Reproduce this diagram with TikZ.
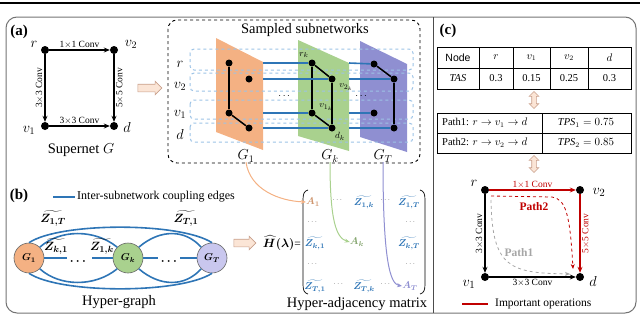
\documentclass[tikz,border=0pt]{standalone}
\usepackage{amsmath,bm}
\usepackage{fontspec}
\setmainfont{Liberation Serif}
\newfontfamily\sansf{Liberation Sans}
\usetikzlibrary{arrows.meta,shapes.arrows,shapes.geometric}
\definecolor{cblue}{HTML}{2E75B6}
\definecolor{lblue}{HTML}{9DC3E6}
\definecolor{porange}{HTML}{F4B183}
\definecolor{pgreen}{HTML}{A9D18E}
\definecolor{ppurple}{HTML}{8F8FD1}
\definecolor{cpurple}{HTML}{C9C7EE}
\definecolor{cred}{HTML}{C00000}
\definecolor{cgray}{HTML}{A6A6A6}
\definecolor{barrow}{HTML}{FBE5D6}
\definecolor{barrowd}{HTML}{C9A08C}
\newcommand{\ztil}[1]{$\bm{\widetilde{Z_{#1}}}$}
\tikzset{
  dot/.style={circle,fill=black,inner sep=0pt,minimum size=8pt},
  sdot/.style={circle,fill=black,inner sep=0pt,minimum size=7pt},
  arr/.style={line width=1.3pt,-{Stealth[length=6pt,width=5pt]}},
  lbl/.style={font=\fontsize{9.5}{10}\selectfont, inner sep=1.5pt},
  var/.style={font=\fontsize{14}{15}\selectfont, inner sep=0pt},
  cpl/.style={cblue, line width=1.6pt},
  gedge/.style={line width=1.5pt},
  zt/.style={text=cblue, font=\fontsize{10}{11}\selectfont, inner sep=0pt},
  mtx/.style={font=\fontsize{10}{11}\selectfont, inner sep=0pt},
  mdots/.style={font=\fontsize{6}{6}\selectfont, inner sep=0pt},
  big/.style={font=\fontsize{14.5}{16}\selectfont, inner sep=0pt},
  panel/.style={font=\fontsize{15}{16}\selectfont\bfseries, inner sep=0pt},
  rowbox/.style={lblue, dashed, line width=1pt, rounded corners=4pt},
  barr/.style={single arrow, draw=barrowd, fill=barrow, line width=0.6pt, inner sep=3.5pt, single arrow head extend=3pt, minimum height=24pt},
  darr/.style={double arrow, draw=barrowd, fill=barrow, line width=0.6pt, inner sep=2pt, double arrow head extend=2.5pt, minimum height=17pt, rotate=90},
  hnode/.style={circle, draw=black!60, line width=0.6pt, minimum size=30pt, inner sep=0pt, font=\fontsize{10}{11}\selectfont},
  tcell/.style={font=\fontsize{10.5}{11}\selectfont, inner sep=0pt},
  zb/.style={font=\fontsize{12.5}{13}\selectfont, inner sep=0pt},
}
\begin{document}
\begin{tikzpicture}[x=1pt,y=-1pt]
\useasboundingbox (0,0) rectangle (640,316);
\draw[line width=1.2pt] (0,3) -- (640,3);
\draw[black!55, line width=1pt, rounded corners=11pt] (6,17) rectangle (636,313);
\draw[black!70, line width=0.8pt] (433,17) -- (433,313);

% ---------- panel (a)
\node[panel] (pa) at (19,32) {(a)};
\node[dot] (ar) at (45,50) {};
\node[dot] (av2) at (114,50) {};
\node[dot] (av1) at (45,126) {};
\node[dot] (ad) at (114,126) {};
\node[var] (lr) at (34,44) {$r$};
\node[var] (lv2) at (131,44) {$v_2$};
\node[var] (lv1) at (29,130) {$v_1$};
\node[var] (ld) at (127,127) {$d$};
\draw[arr] (ar) -- node[above,lbl]{1$\times$1 Conv} (av2);
\draw[arr] (ar) -- node[lbl,rotate=90,anchor=south]{3$\times$3 Conv} (av1);
\draw[arr] (av2) -- node[lbl,rotate=90,anchor=north]{5$\times$5 Conv} (ad);
\draw[arr] (av1) -- node[above,lbl]{3$\times$3 Conv} (ad);
\node[big] (sup) at (81,150) {Supernet $G$};
\node[barr] (ba1) at (148,88) {};

% sampled subnetworks
\draw[dashed, line width=0.9pt, rounded corners=9pt] (168,20) rectangle (420,163);
\node[big] (samp) at (305,30) {Sampled subnetworks};
\fill[porange] (216,38) -- (263,62) -- (263,150) -- (216,132) -- cycle;
\fill[pgreen] (298,40) -- (349,63) -- (349,151) -- (298,136) -- cycle;
\fill[ppurple] (360,41) -- (407,64) -- (407,152) -- (360,137) -- cycle;
\draw[rowbox] (190,49) rectangle (413,70);
\draw[rowbox] (190,73) rectangle (413,91);
\draw[rowbox] (190,100) rectangle (413,119);
\draw[rowbox] (190,123) rectangle (413,142);
\node[var] (rr) at (180,64) {$r$};
\node[var] (rv2) at (180,86) {$v_2$};
\node[var] (rv1) at (180,114) {$v_1$};
\node[var] (rd) at (180,134) {$d$};
% G1
\node[sdot] (g1r) at (229,63) {};
\node[sdot] (g1v2) at (249,79) {};
\node[sdot] (g1v1) at (229,113) {};
\node[sdot] (g1d) at (249,128) {};
\draw[gedge] (g1r) -- (g1v1);
\draw[gedge] (g1v1) -- (g1d);
% Gk
\node[sdot] (gkr) at (312,63) {};
\node[sdot] (gkv2) at (332,79) {};
\node[sdot] (gkv1) at (312,113) {};
\node[sdot] (gkd) at (332,128) {};
\draw[gedge] (gkr) -- (gkv2);
\draw[gedge] (gkr) -- (gkv1);
\draw[gedge] (gkv2) -- (gkd);
\draw[gedge] (gkv1) -- (gkd);
% GT
\node[sdot] (gtr) at (374,64) {};
\node[sdot] (gtv2) at (394,79) {};
\node[sdot] (gtv1) at (374,113) {};
\node[sdot] (gtd) at (394,128) {};
\draw[gedge] (gtr) -- (gtv2);
\draw[gedge] (gtv2) -- (gtd);
% coupling lines
\coordinate (e1r) at (263,63);
\coordinate (e1v2) at (263,79);
\coordinate (e1v1) at (263,113);
\coordinate (e1d) at (263,128);
\coordinate (ekr) at (349,63);
\coordinate (ekv2) at (349,79);
\coordinate (ekv1) at (349,113);
\coordinate (ekd) at (349,128);
\draw[cpl] (e1r) -- (gkr);
\draw[cpl] (e1v2) -- (gkv2);
\draw[cpl] (e1v1) -- (gkv1);
\draw[cpl] (e1d) -- (gkd);
\draw[cpl] (ekr) -- (gtr);
\draw[cpl] (ekv2) -- (gtv2);
\draw[cpl] (ekv1) -- (gtv1);
\draw[cpl] (ekd) -- (gtd);
\node[mtx] (dd1) at (285,96) {$\cdots$};
\node[mtx] (dd2) at (362,96) {$\cdots$};
\node[lbl] (lrk) at (304,55) {$r_k$};
\node[lbl] (lv2k) at (346,87) {$v_{2_k}$};
\node[lbl] (lv1k) at (326,107) {$v_{1_k}$};
\node[lbl] (ldk) at (340,136) {$d_k$};
\node[big] (gl1) at (246,156) {$G_1$};
\node[big] (glk) at (330,156) {$G_k$};
\node[big] (glt) at (383,156) {$G_T$};

% ---------- panel (b)
\node[panel] (pb) at (19,196) {(b)};
\coordinate (lg1) at (53,197);
\coordinate (lg2) at (75,197);
\draw[cpl, line width=1.2pt] (lg1) -- (lg2);
\node[font=\fontsize{12}{13}\selectfont, anchor=west, inner sep=0pt] (lgt) at (77,197) {Inter-subnetwork coupling edges};
\node[hnode, fill=porange] (h1) at (29,258) {$\bm{G_1}$};
\node[hnode, fill=pgreen] (hk) at (128,258) {$\bm{G_k}$};
\node[hnode, fill=cpurple] (ht) at (212,258) {$\bm{G_T}$};
\coordinate (c1) at (67,258);
\coordinate (c2) at (92,258);
\coordinate (c3) at (158,258);
\coordinate (c4) at (180,258);
\draw[cpl] (h1) -- (c1);
\draw[cpl] (c2) -- (hk);
\draw[cpl] (hk) -- (c3);
\draw[cpl] (c4) -- (ht);
\node[font=\fontsize{12}{12}\selectfont, inner sep=0pt] (hd1) at (79,262) {$\bm{\cdots}$};
\node[font=\fontsize{12}{12}\selectfont, inner sep=0pt] (hd2) at (170,262) {$\bm{\cdots}$};
\draw[cpl] (h1.north) .. controls (60,222) and (180,222) .. (ht.north);
\draw[cpl] (h1.north east) .. controls (60,229) and (95,229) .. (hk.north west);
\draw[cpl] (hk.north east) .. controls (160,229) and (185,229) .. (ht.north west);
\draw[cpl] (h1.south) .. controls (60,294) and (180,294) .. (ht.south);
\draw[cpl] (h1.south east) .. controls (60,287) and (95,287) .. (hk.south west);
\draw[cpl] (hk.south east) .. controls (160,287) and (185,287) .. (ht.south west);
\node[zb] (z1t) at (53,218) {\ztil{1,T}};
\node[zb] (zt1) at (186,218) {\ztil{T,1}};
\node[zb] (zk1) at (56,246) {\ztil{k,1}};
\node[zb] (z1k) at (102,246) {\ztil{1,k}};
\node[big] (hg) at (119,302) {Hyper-graph};

% matrix
\node[barr, minimum height=22pt] (ba2) at (243,243) {};
\node[font=\fontsize{11.5}{12}\selectfont, inner sep=0pt, anchor=east] (hl) at (301,243) {$\bm{\widehat{H}(\lambda)}$=};
\draw[line width=0.7pt] (308,190) .. controls (304,191) and (303,194) .. (303,200) -- (303,284) .. controls (303,290) and (304,293) .. (308,294);
\draw[line width=0.7pt] (420,190) .. controls (424,191) and (425,194) .. (425,200) -- (425,284) .. controls (425,290) and (424,293) .. (420,294);
\node[mtx, text=porange!85!black] (ma1) at (313,202) {$\bm{A_1}$};
\node[mdots] (m12) at (338,200) {$\cdots$};
\node[zt] (m1k) at (364,202) {\ztil{1,k}};
\node[mdots] (m14) at (386,200) {$\cdots$};
\node[zt] (m1t) at (409,202) {\ztil{1,T}};
\node[mdots] (m21) at (313,222) {$\cdots$};
\node[mdots] (m25) at (411,222) {$\cdots$};
\node[zt] (mk1) at (315,243) {\ztil{k,1}};
\node[mtx, text=pgreen!80!black] (mak) at (357,242) {$\bm{A_k}$};
\node[zt] (mkt) at (409,243) {\ztil{k,T}};
\node[mdots] (m41) at (313,264) {$\cdots$};
\node[mdots] (m45) at (411,264) {$\cdots$};
\node[zt] (mt1) at (315,286) {\ztil{T,1}};
\node[mdots] (m52) at (339,284) {$\cdots$};
\node[zt] (mtk) at (364,286) {\ztil{T,k}};
\node[mdots] (m54) at (386,284) {$\cdots$};
\node[mtx, text=ppurple] (mat) at (410,286) {$\bm{A_T}$};
\node[big] (hm) at (357,304) {Hyper-adjacency matrix};
\draw[porange, line width=1pt, -{Stealth[length=5pt,width=4pt]}] (gl1.south) .. controls (250,190) and (280,201) .. (ma1.west);
\draw[pgreen, line width=1pt, -{Stealth[length=5pt,width=4pt]}] (glk.south) .. controls (330,220) and (336,238) .. (mak.west);
\draw[ppurple, line width=1pt, -{Stealth[length=5pt,width=4pt]}] (glt.south) .. controls (383,260) and (390,284) .. (mat.west);

% ---------- panel (c)
\node[panel] (pc) at (448,31) {(c)};
\draw[line width=0.8pt] (437,47) rectangle (631,89);
\draw[line width=0.8pt] (437,68) -- (631,68);
\foreach \xx in {479,513,550,588} \draw[line width=0.8pt] (\xx,47) -- (\xx,89);
\node[tcell] (t11) at (458,57.5) {\sansf Node};
\node[tcell] (t12) at (496,57.5) {$r$};
\node[tcell] (t13) at (531.5,57.5) {$v_1$};
\node[tcell] (t14) at (569,57.5) {$v_2$};
\node[tcell] (t15) at (609.5,57.5) {$d$};
\node[tcell] (t21) at (458,78.5) {\textit{TAS}};
\node[tcell] (t22) at (496,78.5) {0.3};
\node[tcell] (t23) at (531.5,78.5) {0.15};
\node[tcell] (t24) at (569,78.5) {0.25};
\node[tcell] (t25) at (609.5,78.5) {0.3};
\node[darr] (da1) at (534,100) {};
\draw[line width=0.8pt] (437,113) rectangle (631,153);
\draw[line width=0.8pt] (437,133) -- (631,133);
\draw[line width=0.8pt] (542,113) -- (542,153);
\node[tcell, anchor=west] (p1) at (442,123) {Path1: $r\rightarrow v_1\rightarrow d$};
\node[tcell, anchor=west] (p2) at (442,143) {Path2: $r\rightarrow v_2\rightarrow d$};
\node[tcell] (s1) at (586,123) {$\mathit{TPS}_1=0.75$};
\node[tcell] (s2) at (586,143) {$\mathit{TPS}_2=0.85$};
\node[darr] (da2) at (534,164) {};

\node[dot] (cr) at (485,190) {};
\node[dot] (cv2) at (580,190) {};
\node[dot] (cv1) at (485,277) {};
\node[dot] (cd) at (580,277) {};
\node[var, font=\fontsize{15}{15}\selectfont] (clr) at (474,183) {$r$};
\node[var, font=\fontsize{15}{15}\selectfont] (clv2) at (599,192) {$v_2$};
\node[var, font=\fontsize{15}{15}\selectfont] (clv1) at (469,284) {$v_1$};
\node[var, font=\fontsize{15}{15}\selectfont] (cld) at (593,281) {$d$};
\draw[arr, cred] (cr) -- node[above,lbl,text=cred]{1$\times$1 Conv} (cv2);
\draw[arr, cred] (cv2) -- node[lbl,rotate=90,anchor=north,text=cred]{5$\times$5 Conv} (cd);
\draw[arr] (cr) -- node[lbl,rotate=90,anchor=south]{3$\times$3 Conv} (cv1);
\draw[arr] (cv1) -- node[below,lbl]{3$\times$3 Conv} (cd);
\coordinate (p2s) at (491,196);
\coordinate (p2e) at (573,269);
\coordinate (p1s) at (491,200);
\coordinate (p1e) at (570,274);
\draw[cred, dashed, line width=0.8pt, -{Stealth[length=5pt,width=4pt]}] (p2s) -- (552,197) .. controls (566,199) and (570,215) .. (p2e);
\draw[cgray, dashed, line width=0.8pt, -{Stealth[length=5pt,width=4pt]}] (p1s) .. controls (492,268) and (510,273) .. (p1e);
\node[font=\fontsize{11.5}{12}\selectfont\bfseries, text=cred, inner sep=0pt] (lp2) at (534,207) {Path2};
\node[font=\fontsize{11.5}{12}\selectfont\bfseries, text=cgray, inner sep=0pt] (lp1) at (519,253) {Path1};
\coordinate (lr1) at (462,304);
\coordinate (lr2) at (488,304);
\draw[cred, line width=1.5pt] (lr1) -- (lr2);
\node[font=\fontsize{11.5}{12}\selectfont, anchor=west, inner sep=0pt] (lio) at (495,304) {Important operations};
\end{tikzpicture}
\end{document}
